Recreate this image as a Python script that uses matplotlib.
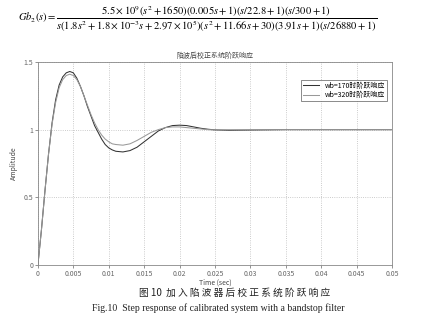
import matplotlib
matplotlib.use("Agg")
import matplotlib.pyplot as plt

plt.rcParams['font.family'] = ['Noto Sans CJK SC', 'DejaVu Sans']
plt.rcParams['mathtext.fontset'] = 'stix'

# step responses
t = [0, 0.0005, 0.001, 0.0015, 0.002, 0.0025, 0.003, 0.0035, 0.004, 0.0045,
     0.005, 0.0055, 0.006, 0.0065, 0.007, 0.0075, 0.008, 0.0085, 0.009, 0.0095,
     0.010, 0.0105, 0.011, 0.012, 0.013, 0.014, 0.015, 0.016, 0.017, 0.018,
     0.019, 0.020, 0.021, 0.022, 0.023, 0.024, 0.025, 0.027, 0.030, 0.035, 0.05]
y_170 = [0, 0.26, 0.55, 0.82, 1.05, 1.22, 1.33, 1.39, 1.42, 1.43,
         1.42, 1.38, 1.32, 1.25, 1.17, 1.10, 1.03, 0.98, 0.93, 0.89,
         0.865, 0.85, 0.84, 0.835, 0.845, 0.87, 0.91, 0.95, 0.99, 1.015,
         1.03, 1.033, 1.03, 1.02, 1.01, 1.003, 0.998, 0.995, 0.997, 1.0, 1.0]
y_320 = [0, 0.26, 0.55, 0.82, 1.04, 1.20, 1.31, 1.37, 1.40, 1.41,
         1.40, 1.37, 1.32, 1.25, 1.18, 1.11, 1.05, 1.0, 0.96, 0.93,
         0.91, 0.895, 0.89, 0.885, 0.895, 0.92, 0.95, 0.98, 1.0, 1.015,
         1.02, 1.02, 1.015, 1.01, 1.005, 1.0, 0.998, 0.999, 0.999, 1.0, 1.0]

x_ticks = [0, 0.005, 0.01, 0.015, 0.02, 0.025, 0.03, 0.035, 0.04, 0.045, 0.05]
x_labels = ['0', '0.005', '0.01', '0.015', '0.02', '0.025', '0.03', '0.035', '0.04', '0.045', '0.05']
y_ticks = [0, 0.5, 1, 1.5]
y_labels = ['0', '0.5', '1', '1.5']
series_names = ['wb=170时阶跃响应', 'wb=320时阶跃响应']

fig = plt.figure(figsize=(4.46, 3.23), dpi=100)
ax = fig.add_axes([0.085, 0.180, 0.794, 0.628])

ax.plot(t, y_170, color='#333333', lw=0.75, label=series_names[0])
ax.plot(t, y_320, color='#999999', lw=0.75, label=series_names[1])

ax.set_xlim(0, 0.05)
ax.set_ylim(0, 1.5)
ax.set_xticks(x_ticks)
ax.set_xticklabels(x_labels)
ax.set_yticks(y_ticks)
ax.set_yticklabels(y_labels)
ax.tick_params(labelsize=5, colors='#666666', length=2, width=0.5, pad=1.5)
ax.grid(True, color='#bbbbbb', linestyle=':', lw=0.6)
for sp in ax.spines.values():
    sp.set_color('#888888')
    sp.set_linewidth(0.6)

ax.set_title('陷波后校正系统阶跃响应', fontsize=5, color='#444444', pad=3)
ax.set_xlabel('Time (sec)', fontsize=5, color='#444444', labelpad=0.5)
ax.set_ylabel('Amplitude', fontsize=5, color='#444444', labelpad=4)

leg = ax.legend(loc='upper right', fontsize=5, frameon=True, fancybox=False,
                handlelength=2.2, borderpad=0.3, labelspacing=0.2,
                bbox_to_anchor=(0.995, 0.93))
leg.get_frame().set_edgecolor('#555555')
leg.get_frame().set_linewidth(0.6)

formula = (r'$Gb_2(s) = \dfrac{5.5\times10^9(s^2+1650)(0.005s+1)(s/22.8+1)(s/300+1)}'
           r'{s(1.8s^2+1.8\times10^{-3}s+2.97\times10^5)(s^2+11.66s+30)(3.91s+1)(s/26880+1)}$')
fig.text(0.04, 0.94, formula, fontsize=7.6, va='center', ha='left')

fig.text(0.525, 0.093, '图 10  加 入 陷 波 器 后 校 正 系 统 阶 跃 响 应', fontsize=7,
         ha='center', va='center', color='#222222')
fig.text(0.49, 0.045, 'Fig.10  Step response of calibrated system with a bandstop filter',
         fontsize=7, ha='center', va='center', color='#222222',
         family=['Liberation Serif', 'DejaVu Serif'])

fig.savefig('out.png', dpi=100)
